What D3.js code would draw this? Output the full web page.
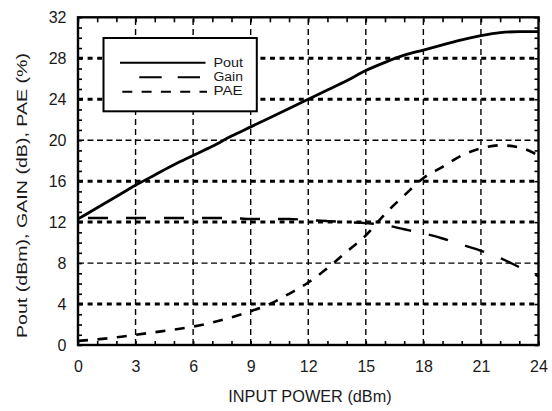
<!DOCTYPE html>
<html><head><meta charset="utf-8">
<script src="https://cdn.jsdelivr.net/npm/d3@7"></script>
<style>body{margin:0;background:#fff}svg{display:block}text{font-family:"Liberation Sans",Arial,sans-serif;fill:#1a1a1a}</style>
</head><body><svg id="c" width="552" height="411"></svg>
<script>
const inputPower = [0,1,2,3,4,5,6,7,8,9,10,11,12,13,14,15,16,17,18,19,20,21,22,23,24];
const pout = [12.3,13.4,14.5,15.6,16.6,17.6,18.5,19.4,20.4,21.3,22.2,23.1,24.0,24.9,25.8,26.8,27.6,28.3,28.8,29.3,29.8,30.2,30.5,30.6,30.6];
const gain = [12.4,12.4,12.4,12.4,12.4,12.4,12.4,12.4,12.4,12.3,12.3,12.3,12.2,12.1,12.0,11.9,11.7,11.3,10.9,10.4,9.8,9.2,8.5,7.6,6.7];
const pae = [0.4,0.55,0.75,1.0,1.25,1.5,1.8,2.2,2.7,3.3,4.0,5.0,6.1,7.5,9.1,10.7,12.8,14.6,16.3,17.4,18.5,19.2,19.5,19.3,18.5];
const xTicks = [0,3,6,9,12,15,18,21,24];
const yTicks = [0,4,8,12,16,20,24,28,32];
const boldGrid = [4,12,16,24,28];
const thinGrid = [8,20];
const seriesNames = ["Pout","Gain","PAE"];

const svg = d3.select("#c");
const x = d3.scaleLinear().domain([0,24]).range([78,538.5]);
const y = d3.scaleLinear().domain([0,32]).range([345,17.3]);

// gridlines
const g = svg.append("g");
g.selectAll(".vg").data(xTicks.slice(1,-1)).join("line")
  .attr("x1",d=>x(d)).attr("x2",d=>x(d)).attr("y1",y(0)).attr("y2",y(32))
  .attr("stroke","#000").attr("stroke-width",1.4).attr("stroke-dasharray","6,4");
g.selectAll(".tg").data(thinGrid).join("line")
  .attr("x1",x(0)).attr("x2",x(24)).attr("y1",d=>y(d)).attr("y2",d=>y(d))
  .attr("stroke","#000").attr("stroke-width",1.4).attr("stroke-dasharray","6,3.5");
g.selectAll(".bg").data(boldGrid).join("line")
  .attr("x1",x(0)).attr("x2",x(24)).attr("y1",d=>y(d)).attr("y2",d=>y(d))
  .attr("stroke","#000").attr("stroke-width",3).attr("stroke-dasharray","5,4.6");

// minor ticks
const minorX = d3.range(0,25), minorY = d3.range(0,33);
function ticks(axis, tr){
  const a = svg.append("g").attr("transform",tr).call(axis);
  a.select(".domain").remove();
  a.selectAll("line").attr("stroke","#000").attr("stroke-width",1.6);
}
ticks(d3.axisTop(x).tickValues(minorX).tickSize(4).tickFormat(""),`translate(0,${y(0)})`);
ticks(d3.axisBottom(x).tickValues(minorX).tickSize(5).tickFormat(""),`translate(0,${y(32)})`);
ticks(d3.axisRight(y).tickValues(minorY).tickSize(4).tickFormat(""),`translate(${x(0)},0)`);
ticks(d3.axisLeft(y).tickValues(minorY).tickSize(4).tickFormat(""),`translate(${x(24)},0)`);

// labels
const xa = svg.append("g").attr("transform",`translate(0,${y(0)})`)
  .call(d3.axisBottom(x).tickValues(xTicks).tickSize(0).tickPadding(15.5));
xa.select(".domain").remove();
xa.selectAll("text").style("font-size","16px").attr("fill","#1a1a1a");
const ya = svg.append("g").attr("transform",`translate(${x(0)},0)`)
  .call(d3.axisLeft(y).tickValues(yTicks).tickSize(0).tickPadding(11.5));
ya.select(".domain").remove();
ya.selectAll("text").style("font-size","16px").attr("fill","#1a1a1a");

// lines
const line = d3.line().x((d,i)=>x(inputPower[i])).y(d=>y(d)).curve(d3.curveMonotoneX);
svg.append("path").attr("d",line(pae)).attr("fill","none").attr("stroke","#000")
  .attr("stroke-width",2.6).attr("stroke-dasharray","10,9.5");
svg.append("path").attr("d",line(gain)).attr("fill","none").attr("stroke","#000")
  .attr("stroke-width",2.4).attr("stroke-dasharray","20,18").attr("stroke-dashoffset",-10);
svg.append("path").attr("d",line(pout)).attr("fill","none").attr("stroke","#000")
  .attr("stroke-width",2.8);

// frame
svg.append("rect").attr("x",x(0)).attr("y",y(32)).attr("width",x(24)-x(0)).attr("height",y(0)-y(32))
  .attr("fill","none").attr("stroke","#000").attr("stroke-width",2.4);

// legend
const lg = svg.append("g");
lg.append("rect").attr("x",103.5).attr("y",38).attr("width",153.3).attr("height",73.3)
  .attr("fill","#fff").attr("stroke","#000").attr("stroke-width",2);
const legY = [62.7,77.3,91.7];
lg.append("line").attr("x1",120).attr("x2",205.5).attr("y1",legY[0]).attr("y2",legY[0]).attr("stroke","#000").attr("stroke-width",2);
lg.append("line").attr("x1",139.3).attr("x2",200).attr("y1",legY[1]).attr("y2",legY[1]).attr("stroke","#000").attr("stroke-width",2).attr("stroke-dasharray","22.4,16");
lg.append("line").attr("x1",122.3).attr("x2",207).attr("y1",legY[2]).attr("y2",legY[2]).attr("stroke","#000").attr("stroke-width",2).attr("stroke-dasharray","10,9.3");
lg.selectAll("text").data(seriesNames).join("text")
  .attr("x",213.5).attr("y",(d,i)=>[66.5,80.7,94.9][i]).style("font-size","12px")
  .attr("textLength",(d,i)=>[29.5,29.5,29][i]).attr("lengthAdjust","spacingAndGlyphs").text(d=>d);

// axis titles
svg.append("text").attr("x",310).attr("y",402).attr("text-anchor","middle").style("font-size","16.3px").text("INPUT POWER (dBm)");
svg.append("text").attr("transform","translate(27,195.5) rotate(-90)").attr("text-anchor","middle")
  .style("font-size","15px").attr("textLength",285).attr("lengthAdjust","spacingAndGlyphs")
  .text("Pout (dBm), GAIN (dB), PAE (%)");
</script></body></html>
